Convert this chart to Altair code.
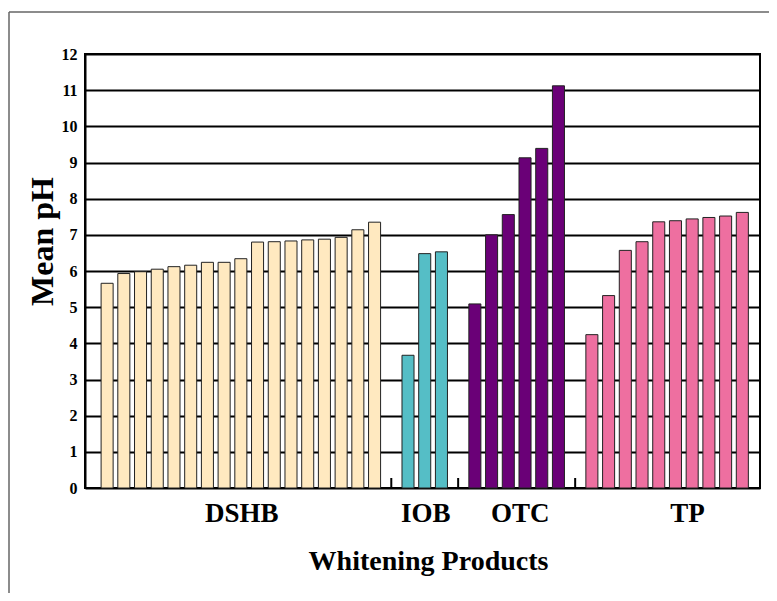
import altair as alt
import pandas as pd

groups = ["DSHB", "IOB", "OTC", "TP"]
dshb = [5.66, 5.93, 5.98, 6.05, 6.12, 6.16, 6.24, 6.24, 6.34, 6.80, 6.81, 6.83, 6.86, 6.88, 6.93, 7.14, 7.35]
iob = [3.67, 6.48, 6.53]
otc = [5.09, 7.00, 7.56, 9.13, 9.39, 11.12]
tp = [4.24, 5.32, 6.57, 6.81, 7.36, 7.39, 7.44, 7.48, 7.52, 7.62]
colors = ["#FFE9C0", "#55BEC6", "#6A0077", "#EE6FA0"]
y_ticks = list(range(13))

values_by_group = [dshb, iob, otc, tp]
rows, slots, gaps, anchors = [], [], [], {}
for gi, (g, vals) in enumerate(zip(groups, values_by_group)):
    if gi > 0:
        key = f"gap{gi}"
        slots.append(key)
        gaps.append(key)
    for i, v in enumerate(vals):
        key = f"{g}-{i + 1:02d}"
        slots.append(key)
        rows.append({"slot": key, "group": g, "pH": v})
df = pd.DataFrame(rows)

FONT = "Liberation Serif"
xscale = alt.Scale(domain=slots, paddingInner=0.28, paddingOuter=0.83, align=0.58)

bars = alt.Chart(df).mark_bar(stroke="#222222", strokeWidth=1).encode(
    x=alt.X("slot:N", scale=xscale, axis=None),
    y=alt.Y(
        "pH:Q",
        scale=alt.Scale(domain=[0, 12], nice=False, zero=True),
        axis=alt.Axis(
            values=y_ticks,
            grid=True,
            gridColor="black",
            gridWidth=2,
            domainColor="black",
            domainWidth=2,
            ticks=False,
            labelFont=FONT,
            labelFontWeight="bold",
            labelFontSize=16,
            labelColor="black",
            labelPadding=8,
            title="Mean pH",
            titleFont=FONT,
            titleFontWeight="bold",
            titleFontSize=32,
            titleColor="black",
            titleX=-33,
            titleY=187,
            titleAlign="center",
            titleBaseline="alphabetic",
        ),
    ),
    color=alt.Color("group:N", scale=alt.Scale(domain=groups, range=colors), legend=None),
)

ticks = alt.Chart(pd.DataFrame({"slot": gaps})).mark_rule(color="black", strokeWidth=2).encode(
    x=alt.X("slot:N", scale=xscale, axis=None),
    y=alt.value(434),
    y2=alt.value(424),
)

label_anchor = {"DSHB": ("DSHB-09", 1), "IOB": ("IOB-02", 1), "OTC": ("OTC-03", 12), "TP": ("TP-06", 12)}
label_layers = []
for g in groups:
    slot, dx = label_anchor[g]
    label_layers.append(
        alt.Chart(pd.DataFrame({"slot": [slot], "label": [g]})).mark_text(
            font=FONT, fontWeight="bold", fontSize=27, color="black", baseline="alphabetic", align="center", dx=dx
        ).encode(
            x=alt.X("slot:N", scale=xscale, axis=None),
            y=alt.value(468),
            text="label:N",
        )
    )

xtitle = alt.Chart(alt.Data(values=[{"t": "Whitening Products"}])).mark_text(
    font=FONT, fontWeight="bold", fontSize=28, color="black", baseline="alphabetic", align="center"
).encode(x=alt.value(343.5), y=alt.value(516), text="t:N")

frame_left = alt.Chart(alt.Data(values=[{"a": 1}])).mark_rule(color="#666666", strokeWidth=1.5).encode(
    x=alt.value(-76), y=alt.value(-42), y2=alt.value(700)
)
frame_top = alt.Chart(alt.Data(values=[{"a": 1}])).mark_rule(color="#666666", strokeWidth=1.5).encode(
    x=alt.value(-76), x2=alt.value(800), y=alt.value(-42)
)

chart = alt.layer(bars, ticks, *label_layers, xtitle, frame_left, frame_top).properties(
    width=675,
    height=434,
    autosize=alt.AutoSizeParams(type="none"),
    padding={"left": 77, "top": 46, "right": 9, "bottom": 105},
    background="white",
).configure_view(stroke="black", strokeWidth=2)

chart.save("out.html", embed_options={"renderer": "svg", "actions": False})
